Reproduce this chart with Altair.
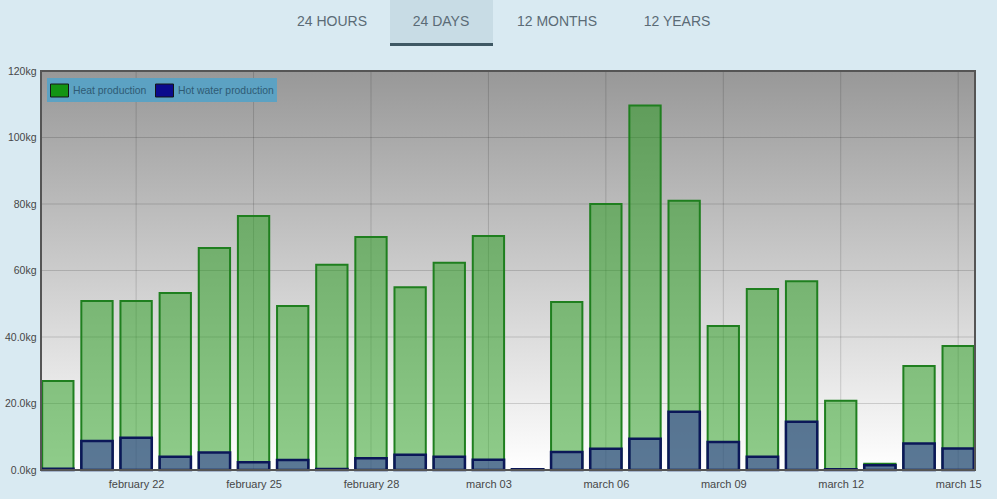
import json
import altair as alt
import pandas as pd

# ---------------- data ----------------
days = ["february 20", "february 21", "february 22", "february 23", "february 24",
        "february 25", "february 26", "february 27", "february 28", "march 01",
        "march 02", "march 03", "march 04", "march 05", "march 06", "march 07",
        "march 08", "march 09", "march 10", "march 11", "march 12", "march 13",
        "march 14", "march 15"]
heat = [26.8, 50.8, 50.8, 53.2, 66.8, 76.4, 49.3, 61.7, 70.1, 55.0, 62.3, 70.4,
        0.3, 50.5, 80.0, 109.6, 81.0, 43.3, 54.4, 56.8, 20.8, 1.9, 31.3, 37.3]
water = [0.4, 8.7, 9.7, 4.0, 5.3, 2.3, 3.0, 0.3, 3.5, 4.6, 4.0, 3.1,
         0.2, 5.4, 6.4, 9.4, 17.5, 8.4, 4.0, 14.5, 0.2, 1.4, 8.0, 6.5]
series = ["Heat production", "Hot water production"]
x_ticks = [2, 5, 8, 11, 14, 17, 20, 23]
y_ticks = [0, 20, 40, 60, 80, 100, 120]
tabs = ["24 HOURS", "24 DAYS", "12 MONTHS", "12 YEARS"]

# ---------------- layout ----------------
W, H = 934, 399
PAD_L, PAD_T, PAD_R, PAD_B = 41, 71, 22, 29
HALF = 0.4
FONT = "Liberation Sans"
tab_centers = [332, 441, 557, 677]      # page px
tab_box = (390, 493)                    # page px

df = pd.DataFrame({"i": list(range(len(days))), "day": days, "heat": heat, "water": water})
df["x0"] = df["i"] - HALF
df["x1"] = df["i"] + HALF

xscale = alt.Scale(domain=[-0.43, 23.43], nice=False, zero=False)
yscale = alt.Scale(domain=[0, 120], nice=False, zero=True)

label_arr = json.dumps(days).replace('"', "'")
xaxis = alt.Axis(values=x_ticks, labelExpr=f"{label_arr}[datum.value]", ticks=False,
                 domain=False, grid=False, labelPadding=8, labelFontSize=11,
                 labelColor="#474747", labelFont=FONT)
yaxis = alt.Axis(values=y_ticks,
                 labelExpr="datum.value < 60 ? format(datum.value, '.1f') + 'kg' : format(datum.value, 'd') + 'kg'",
                 ticks=False, domain=False, grid=False, labelPadding=5, labelFontSize=10.5,
                 labelColor="#474747", labelFont=FONT)


def X(field):
    return alt.X(f"{field}:Q", scale=xscale, axis=xaxis, title=None)


def Y(field):
    return alt.Y(f"{field}:Q", scale=yscale, axis=yaxis, title=None)


one = pd.DataFrame({"k": [0]})

background = alt.Chart(one).mark_rect(
    color=alt.Gradient(gradient="linear",
                       stops=[alt.GradientStop(color="#989898", offset=0),
                              alt.GradientStop(color="#ffffff", offset=1)],
                       x1=0, x2=0, y1=0, y2=1)
).encode(x=alt.value(0), x2=alt.value(W), y=alt.value(0), y2=alt.value(H))

ygrid = alt.Chart(pd.DataFrame({"v": y_ticks})).mark_rule(
    color="#000000", opacity=0.15, strokeWidth=1).encode(y=Y("v"))
xgrid = alt.Chart(pd.DataFrame({"t": x_ticks})).mark_rule(
    color="#000000", opacity=0.15, strokeWidth=1).encode(x=X("t"))

heat_bars = alt.Chart(df).mark_rect(
    fill="#1f9915", fillOpacity=0.5, stroke="#1f7f1f", strokeWidth=2
).encode(x=X("x0"), x2="x1:Q", y=Y("heat"), y2=alt.datum(0))

water_bars = alt.Chart(df).mark_rect(
    fill="#2524a0", fillOpacity=0.5, stroke="#0b1758", strokeWidth=2.5
).encode(x=X("x0"), x2="x1:Q", y=Y("water"), y2=alt.datum(0))

legend_layer = alt.Chart(pd.DataFrame({"series": series})).mark_rect(
    stroke="#151515", strokeWidth=1
).encode(
    x=alt.value(20), x2=alt.value(20), y=alt.value(18), y2=alt.value(18),
    color=alt.Color("series:N",
                    scale=alt.Scale(domain=series, range=["#139413", "#0b0b8c"]),
                    legend=alt.Legend(orient="none", legendX=6, legendY=7,
                                      direction="horizontal", title=None,
                                      fillColor="#5ca2c3", padding=3,
                                      symbolType="M-1,-0.72H1V0.72H-1Z", symbolSize=324,
                                      symbolStrokeColor="#151515", symbolStrokeWidth=1,
                                      symbolOpacity=1, labelFontSize=10.4,
                                      labelColor="#2f5b74", labelFont=FONT,
                                      columnPadding=6, labelOffset=4))
)

border = alt.Chart(one).mark_rect(
    fill=None, stroke="#555555", strokeWidth=2
).encode(x=alt.value(0), x2=alt.value(W), y=alt.value(0), y2=alt.value(H))

tab_bg = alt.Chart(one).mark_rect(color="#c8dce5").encode(
    x=alt.value(tab_box[0] - PAD_L), x2=alt.value(tab_box[1] - PAD_L),
    y=alt.value(-PAD_T), y2=alt.value(45 - PAD_T))
tab_line = alt.Chart(one).mark_rect(color="#3f5864").encode(
    x=alt.value(tab_box[0] - PAD_L), x2=alt.value(tab_box[1] - PAD_L),
    y=alt.value(43 - PAD_T), y2=alt.value(46 - PAD_T))

tab_layers = []
for name, cx in zip(tabs, tab_centers):
    tab_layers.append(
        alt.Chart(one).mark_text(text=name, font=FONT, fontSize=14, color="#5b6b76",
                                 align="center", baseline="middle").encode(
            x=alt.value(cx - PAD_L), y=alt.value(22 - PAD_T)))

chart = alt.layer(
    background, ygrid, xgrid, heat_bars, water_bars, legend_layer, border,
    tab_bg, tab_line, *tab_layers
).properties(
    width=W, height=H,
    background="#d9eaf2",
    padding={"left": PAD_L, "top": PAD_T, "right": PAD_R, "bottom": PAD_B},
    autosize=alt.AutoSizeParams(type="none"),
).configure_view(stroke=None)

chart.save("out.html", embed_options={"renderer": "svg", "actions": False})
